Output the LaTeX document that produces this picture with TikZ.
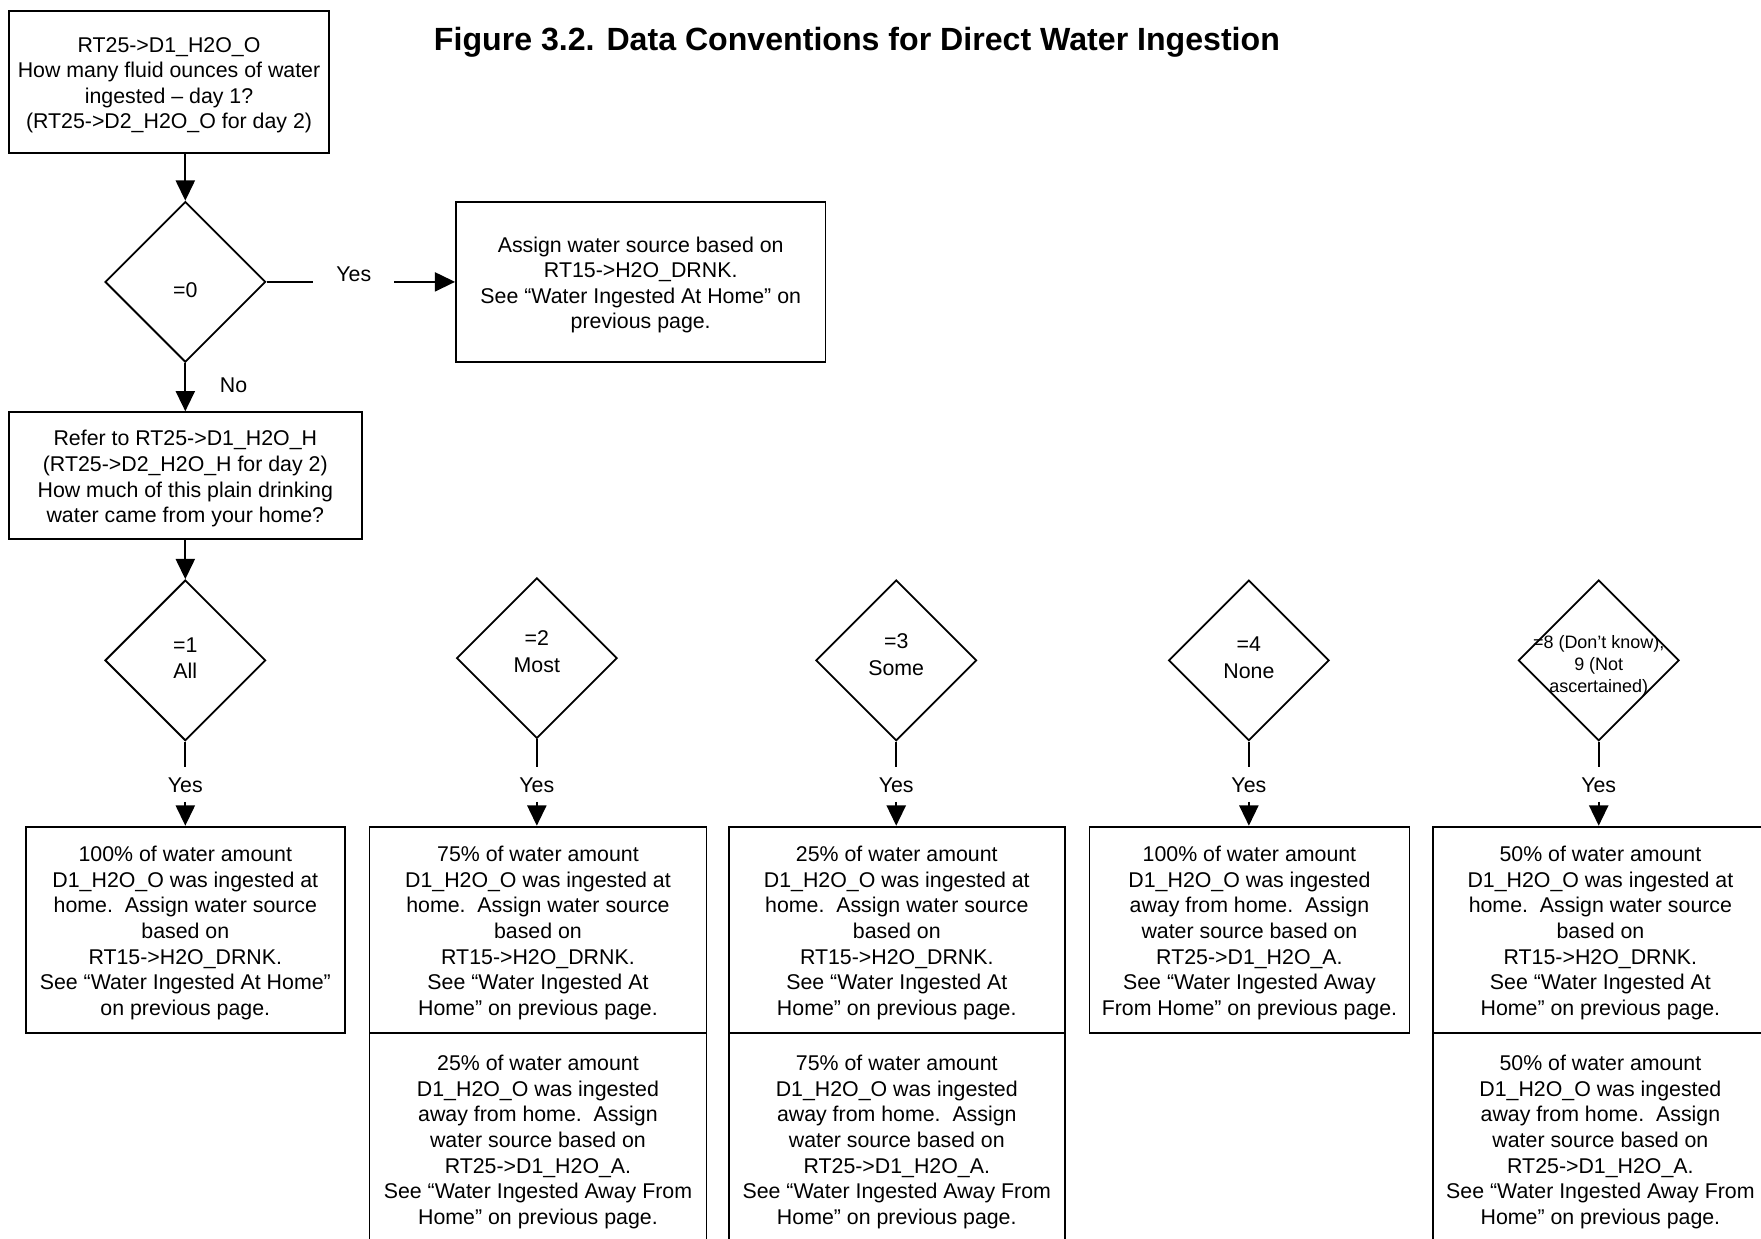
\documentclass[tikz,border=0pt]{standalone}
\usepackage{fontspec}
\setmainfont{Liberation Sans}
\usetikzlibrary{shapes.geometric,arrows.meta}
\newcommand{\tstrut}{\rule{0pt}{9.6pt}}
\begin{document}
\begin{tikzpicture}[x=0.5pt,y=-0.5pt,
  every node/.style={font=\fontsize{9.5}{11.4}\selectfont},
  box/.style={draw, line width=0.8pt, align=center, inner sep=0pt},
  dia/.style={draw, diamond, line width=0.8pt, minimum width=71.5pt, minimum height=71.5pt, inner sep=0pt},
  lbl/.style={align=center, inner sep=0pt},
  arr/.style={line width=0.8pt, -{Triangle[length=9pt,width=8.5pt]}},
  ln/.style={line width=0.8pt}]
\useasboundingbox (0,0) rectangle (1568,1103);
\clip (0,0) rectangle (1568,1103);

\node[anchor=west, inner sep=0pt, font=\bfseries\fontsize{14.3}{17}\selectfont] (title) at (386,38) {Figure 3.2. Data Conventions for Direct Water Ingestion};

\node[box, minimum width=142.5pt, minimum height=63pt] (top) at (150.5,73)
  {\tstrut RT25->D1\_H2O\_O\\How many fluid ounces of water\\ingested – day 1?\\(RT25->D2\_H2O\_O for day 2)};
\node[dia] (d0) at (165,251) {};
\node[lbl] (t0) at (165,258) {=0};
\node[box, minimum width=164.5pt, minimum height=71pt] (assign) at (570.5,251)
  {\tstrut Assign water source based on\\RT15->H2O\_DRNK.\\See “Water Ingested At Home” on\\previous page.};
\node[lbl, inner xsep=10pt] (yes0) at (315,244) {Yes};
\node[lbl] (no0) at (208,343) {No};
\node[box, minimum width=157pt, minimum height=56.5pt] (refer) at (165,423.5)
  {\tstrut Refer to RT25->D1\_H2O\_H\\(RT25->D2\_H2O\_H for day 2)\\How much of this plain drinking\\water came from your home?};

\draw[arr] (d0.north |- top.south) -- (d0.north);
\draw[ln] (d0.east) -- (d0.east -| yes0.west);
\draw[arr] (d0.east -| yes0.east) -- (assign.west);
\draw[arr] (d0.south) -- (d0.south |- refer.north);

% diamonds row
\node[dia] (d1) at (165,588) {};
\node[lbl] (t1) at (165,586) {=1\\[0.6pt]All};
\node[dia] (d2) at (478,586) {};
\node[lbl] (t2) at (478,580) {=2\\[0.6pt]Most};
\node[dia] (d3) at (798,588) {};
\node[lbl] (t3) at (798,582.5) {=3\\[0.6pt]Some};
\node[dia] (d4) at (1112,588) {};
\node[lbl] (t4) at (1112,585.5) {=4\\[0.6pt]None};
\node[dia] (d5) at (1423.5,588) {};
\node[lbl, font=\fontsize{8}{9.8}\selectfont] (t5) at (1423.5,593) {=8 (Don’t know),\\9 (Not\\ascertained)};

\draw[arr] (refer.south) -- (d1.north);

% result boxes
\node[box, minimum width=142pt, minimum height=92pt] (b1) at (165,828)
  {\tstrut 100\% of water amount\\D1\_H2O\_O was ingested at\\home.\ \ Assign water source\\based on\\RT15->H2O\_DRNK.\\See “Water Ingested At Home”\\on previous page.};
\node[box, minimum width=150pt, minimum height=92pt] (b2u) at (479,828)
  {\tstrut 75\% of water amount\\D1\_H2O\_O was ingested at\\home.\ \ Assign water source\\based on\\RT15->H2O\_DRNK.\\See “Water Ingested At\\Home” on previous page.};
\node[box, minimum width=150pt, minimum height=94pt] (b2l) at (479,1014)
  {\tstrut 25\% of water amount\\D1\_H2O\_O was ingested\\away from home.\ \ Assign\\water source based on\\RT25->D1\_H2O\_A.\\See “Water Ingested Away From\\Home” on previous page.};
\node[box, minimum width=149.5pt, minimum height=92pt] (b3u) at (798.5,828)
  {\tstrut 25\% of water amount\\D1\_H2O\_O was ingested at\\home.\ \ Assign water source\\based on\\RT15->H2O\_DRNK.\\See “Water Ingested At\\Home” on previous page.};
\node[box, minimum width=149.5pt, minimum height=94pt] (b3l) at (798.5,1014)
  {\tstrut 75\% of water amount\\D1\_H2O\_O was ingested\\away from home.\ \ Assign\\water source based on\\RT25->D1\_H2O\_A.\\See “Water Ingested Away From\\Home” on previous page.};
\node[box, minimum width=142.5pt, minimum height=92pt] (b4) at (1112.5,828)
  {\tstrut 100\% of water amount\\D1\_H2O\_O was ingested\\away from home.\ \ Assign\\water source based on\\RT25->D1\_H2O\_A.\\See “Water Ingested Away\\From Home” on previous page.};
\node[box, minimum width=149pt, minimum height=92pt] (b5u) at (1425,828)
  {\tstrut 50\% of water amount\\D1\_H2O\_O was ingested at\\home.\ \ Assign water source\\based on\\RT15->H2O\_DRNK.\\See “Water Ingested At\\Home” on previous page.};
\node[box, minimum width=149pt, minimum height=94pt] (b5l) at (1425,1014)
  {\tstrut 50\% of water amount\\D1\_H2O\_O was ingested\\away from home.\ \ Assign\\water source based on\\RT25->D1\_H2O\_A.\\See “Water Ingested Away From\\Home” on previous page.};

% yes connectors
\foreach \d/\b/\x in {d1/b1/165, d2/b2u/478, d3/b3u/798, d4/b4/1112, d5/b5u/1423.5}{
  \coordinate (s\d) at (\x,683);
  \node[lbl] (y\d) at (\x,699.5) {Yes};
  \coordinate (a\d) at (\x,714);
  \draw[ln] (\d.south) -- (s\d);
  \draw[arr] (a\d) -- (a\d |- \b.north);
}
\end{tikzpicture}
\end{document}
